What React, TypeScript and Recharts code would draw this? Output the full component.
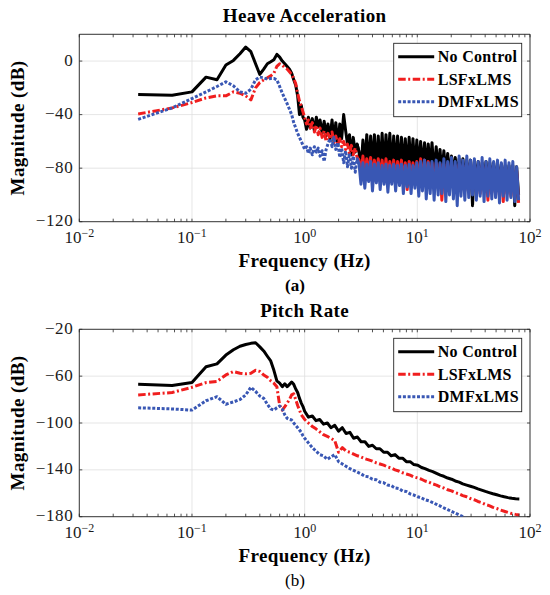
import React from 'react'
import {
  LineChart,
  Line,
  XAxis,
  YAxis,
  CartesianGrid,
  ReferenceLine,
  ReferenceArea,
} from 'recharts'

const FONT = '"Liberation Serif", "Times New Roman", serif'

// frequency bins below 1 Hz (shared by both panels)
const lowFreq = [
  0.0333, 0.0667, 0.1, 0.1333, 0.1667, 0.2, 0.2333, 0.2667, 0.3, 0.3333,
  0.3667, 0.4, 0.4333, 0.4667, 0.5, 0.5333, 0.5667, 0.6, 0.6333, 0.6667,
  0.7, 0.7333, 0.7667, 0.8, 0.8333, 0.8667, 0.9, 0.9333, 0.9667,
]

// heave: 1 - 80 Hz
const heaveHighFreq = [
  1.0, 1.04, 1.08, 1.12, 1.17, 1.22, 1.27, 1.32, 1.37, 1.43,
  1.49, 1.55, 1.61, 1.68, 1.75, 1.82, 1.89, 1.97, 2.05, 2.13,
  2.22, 2.31, 2.4, 2.5, 2.6, 2.7, 2.81, 2.92, 3.04, 3.16,
  3.29, 3.42, 3.56, 3.7, 3.85, 4.0, 4.16, 4.33, 4.5, 4.68,
  4.87, 5.07, 5.27, 5.48, 5.7, 5.93, 6.17, 6.42, 6.68, 6.95,
  7.23, 7.52, 7.82, 8.13, 8.46, 8.8, 9.15, 9.52, 9.9, 10.3,
  10.7, 11.1, 11.6, 12.0, 12.5, 13.0, 13.5, 14.1, 14.7, 15.3,
  15.9, 16.5, 17.2, 17.9, 18.6, 19.3, 20.1, 20.9, 21.7, 22.6,
  23.5, 24.4, 25.4, 26.4, 27.5, 28.6, 29.7, 30.9, 32.1, 33.4,
  34.7, 36.1, 37.6, 39.1, 40.7, 42.3, 44.0, 45.8, 47.6, 49.5,
  51.5, 53.6, 55.7, 57.9, 60.2, 62.6, 65.1, 67.7, 70.4, 73.2,
  76.1, 79.2,
]

// pitch: 1 - 80 Hz
const pitchHighFreq = [
  1.0, 1.08, 1.17, 1.26, 1.36, 1.47, 1.59, 1.71, 1.85, 2.0,
  2.16, 2.33, 2.52, 2.72, 2.94, 3.17, 3.43, 3.7, 4.0, 4.32,
  4.66, 5.03, 5.44, 5.87, 6.34, 6.85, 7.4, 7.99, 8.63, 9.32,
  10.1, 10.9, 11.7, 12.7, 13.7, 14.8, 16.0, 17.2, 18.6, 20.1,
  21.7, 23.5, 25.3, 27.4, 29.6, 31.9, 34.5, 37.2, 40.2, 43.4,
  46.9, 50.7, 54.7, 59.1, 63.8, 68.9, 74.4, 80.4,
]

const heaveNoControl = [
  -25, -25.5, -23, -12, -14, -3, 0.5, 5.5, 10.5, 7,
  -2, -10, -6, -2, -0.5, 1, 5, 3, 0, -2,
  -4, -6, -9, -14, -18, -26, -40, -33, -42,
  -44, -51, -42, -50, -43, -52, -42, -49, -44, -54,
  -45, -56, -47, -58, -44, -60, -46, -63, -47, -58,
  -40, -52, -62, -55, -70, -57, -68, -62, -68, -80,
  -59, -78, -55, -80, -56, -79, -55, -82, -56, -80,
  -54, -81, -55, -79, -54, -82, -56, -80, -56, -81,
  -57, -80, -58, -82, -57, -80, -58, -81, -59, -82,
  -60, -80, -61, -83, -62, -81, -61, -84, -64, -82,
  -66, -85, -67, -84, -69, -86, -71, -85, -72, -87,
  -73, -86, -73, -88, -74, -90, -74, -108, -75, -90,
  -75, -92, -76, -90, -75, -92, -76, -90, -76, -93,
  -77, -92, -77, -94, -78, -93, -78, -96, -78, -108,
  -79, -100,
]

const heaveLsf = [
  -39.5, -35, -31, -27.5, -26, -26, -23, -24, -26, -29,
  -20, -16, -14, -12.5, -11, -9, -4, -2, -3, -5,
  -6, -8, -10, -13, -17, -24, -30, -34, -38,
  -42, -47, -44, -50, -46, -53, -48, -55, -50, -57,
  -52, -60, -54, -58, -53, -61, -56, -62, -58, -64,
  -60, -66, -62, -69, -63, -70, -65, -72, -74, -84,
  -71, -86, -73, -85, -72, -88, -74, -86, -73, -87,
  -74, -89, -73, -87, -75, -88, -74, -90, -75, -88,
  -74, -91, -76, -96, -75, -89, -76, -90, -75, -92,
  -73, -90, -74, -93, -75, -91, -76, -94, -76, -92,
  -77, -104, -77, -93, -76, -95, -77, -93, -78, -96,
  -77, -94, -78, -97, -77, -95, -78, -98, -78, -96,
  -79, -99, -78, -97, -79, -104, -79, -98, -80, -100,
  -79, -98, -80, -105, -80, -99, -81, -101, -81, -100,
  -82, -106,
]

const heaveDmf = [
  -43.5, -35, -28, -23, -19, -15.5, -18.5, -23, -24, -21,
  -14, -12, -12.5, -13.5, -13, -13, -14, -19, -24, -28,
  -32, -36, -40, -46, -50, -54, -57, -60, -63,
  -66, -64, -69, -65, -70, -64, -68, -65, -71, -67,
  -75, -66, -62, -58, -64, -57, -66, -61, -72, -65,
  -76, -67, -79, -69, -80, -71, -83, -73, -77, -92,
  -76, -95, -77, -90, -75, -97, -77, -91, -76, -96,
  -78, -92, -77, -98, -78, -92, -77, -97, -78, -93,
  -77, -99, -78, -94, -77, -99, -78, -95, -76, -101,
  -75, -97, -74, -103, -76, -99, -75, -104, -74, -100,
  -76, -99, -73, -105, -75, -100, -72, -103, -75, -108,
  -71, -101, -74, -104, -71, -102, -74, -100, -73, -104,
  -75, -101, -72, -105, -75, -101, -73, -103, -75, -102,
  -74, -106, -76, -101, -74, -104, -76, -102, -75, -105,
  -79, -104,
]

const pitchNoControl = [
  -67, -68, -65.5, -52, -49.5, -42, -37.5, -34.5, -33, -32,
  -31.5, -35, -38.5, -43, -47, -55, -64, -66, -69, -66.5,
  -69, -67, -65, -67, -71, -74, -79, -83, -86,
  -90, -95, -94, -98, -97, -101, -100, -104, -102, -107,
  -104, -109, -108, -113, -112, -116, -116, -120, -119, -122,
  -122, -125, -125, -128, -127, -130, -130, -133, -133, -135.5,
  -136, -138, -139, -140.5, -141.5, -143, -144.5, -145.5, -147, -148,
  -149.5, -150.5, -152, -153, -154, -155, -156.3, -157.3, -158.4, -159.4,
  -160.4, -161.3, -162.2, -163, -163.7, -164.3, -164.7, -164.8,
]

const pitchLsf = [
  -76, -74, -69.5, -65.5, -64.5, -59, -56, -57.5, -58, -57.5,
  -55, -56, -59, -61, -64, -66, -69, -85, -89, -86,
  -83, -80, -76, -75, -80, -85, -89, -93, -95,
  -97, -100, -103, -105, -107.5, -110, -111.5, -113, -115, -125,
  -121, -124, -125, -126.5, -128, -129, -130.5, -131.5, -132.5, -134,
  -135, -136, -137.5, -138.5, -140, -141, -142.5, -143.5, -144.5, -146,
  -147, -148, -149.5, -150.5, -152, -153, -154.5, -155.5, -157, -158,
  -159.5, -160.5, -162, -163, -164.5, -165.5, -167, -168, -169.5, -170.5,
  -172, -173, -174.3, -175.3, -176.3, -177.3, -178, -178.5,
]

const pitchDmf = [
  -87, -88, -89, -81, -77.5, -84, -82, -80, -76, -69.5,
  -73, -77, -79, -84, -88, -89, -87, -85.5, -88, -93,
  -96, -97, -97.5, -100, -102, -104, -106, -108, -111,
  -113, -117, -121, -124, -127, -128, -131, -129, -127, -133,
  -135, -137, -139, -140.5, -142, -143.5, -145.5, -146, -148, -148.5,
  -150.5, -151, -153, -153.5, -155.5, -156, -158, -158.5, -160.5, -161.5,
  -163, -164, -165.5, -166.5, -168, -169.5, -171, -172.5, -174, -175.5,
  -177, -178.5, -180, -182, null, null, null, null, null, null,
  null, null, null, null, null, null, null, null,
]

const majorTicks = [0.01, 0.1, 1, 10, 100]
const minorSteps = [2, 3, 4, 5, 6, 7, 8, 9]
const minorTicks = majorTicks.slice(0, 4).flatMap((d) => minorSteps.map((k) => k * d))

const heaveTicks = [-120, -80, -40, 0]
const pitchTicks = [-180, -140, -100, -60, -20]

const SERIES = [
  { key: 'noControl', name: 'No Control', color: '#000000', dash: undefined as string | undefined },
  { key: 'lsf', name: 'LSFxLMS', color: '#f01e1e', dash: '7.5 2.5 2 2.5' },
  { key: 'dmf', name: 'DMFxLMS', color: '#3957b4', dash: '3 1.7' },
]

const PLOT_LEFT = 79.3
const PLOT_RIGHT = 530
const PLOT_TOP = 34.3
const PLOT_H = 187.4
const AXIS_COLOR = '#262626'

// the dense noise above a few Hz reads as a solid band, so that part is drawn
// as its own solid trace (key + 'Hi'); the two parts share one segment
function buildRows(
  freq: number[],
  nc: (number | null)[],
  ls: (number | null)[],
  dm: (number | null)[],
  bandFrom?: [number, number],
) {
  return freq.map((f, i) => {
    const row: any = { f }
    const vals: Record<string, number | null> = { noControl: nc[i], lsf: ls[i], dmf: dm[i] }
    for (const k of Object.keys(vals)) {
      if (!bandFrom) {
        row[k] = vals[k]
      } else {
        row[k] = f <= bandFrom[1] ? vals[k] : null
        row[k + 'Hi'] = f >= bandFrom[0] ? vals[k] : null
      }
    }
    return row
  })
}

const heaveRows = buildRows([...lowFreq, ...heaveHighFreq], heaveNoControl, heaveLsf, heaveDmf, [2.92, 3.04])
const pitchRows = buildRows([...lowFreq, ...pitchHighFreq], pitchNoControl, pitchLsf, pitchDmf)

const fmtNum = (v: number) => (v < 0 ? '\u2212' + Math.abs(v) : String(v))

function XTick(props: any) {
  const { x, y, payload } = props
  const exp = Math.round(Math.log10(payload.value))
  return (
    <text x={x} y={y + 21.5} textAnchor="middle" fontFamily={FONT} fontSize={17} fill="#1a1a1a">
      10
      <tspan dy={-6.5} fontSize={12}>
        {fmtNum(exp)}
      </tspan>
    </text>
  )
}

function YTick(props: any) {
  const { x, y, payload } = props
  return (
    <text x={x - 6} y={y + 4.5} textAnchor="end" fontFamily={FONT} fontSize={17} letterSpacing={0.6} fill="#1a1a1a">
      {fmtNum(payload.value)}
    </text>
  )
}

function LegendBox() {
  return (
    <g transform="translate(393.7, 43.3)">
      <rect x={0} y={0} width={128} height={73.4} fill="#ffffff" stroke={AXIS_COLOR} strokeWidth={0.9} />
      {SERIES.map((s, i) => {
        const cy = 13.4 + i * 22.5
        return (
          <g key={s.key}>
            <line x1={4.5} x2={40.5} y1={cy} y2={cy} stroke={s.color} strokeWidth={3} strokeDasharray={s.dash} />
            <text x={44} y={cy + 5.5} fontFamily={FONT} fontSize={16} fontWeight="bold" letterSpacing={0.3} fill="#000">
              {s.name}
            </text>
          </g>
        )
      })}
    </g>
  )
}

interface PanelProps {
  top: number
  height: number
  title: string
  caption: string
  captionBold?: boolean
  rows: any[]
  yDomain: [number, number]
  yTicks: number[]
  band?: boolean
}

function Panel({ top, height, title, caption, captionBold, rows, yDomain, yTicks, band }: PanelProps) {
  const xAxisH = height - PLOT_TOP - PLOT_H
  const tickDy = (yDomain[1] - yDomain[0]) * 0.016
  const tickFx = 1.063
  const midX = (PLOT_LEFT + PLOT_RIGHT) / 2
  const midY = PLOT_TOP + PLOT_H / 2

  return (
    <div style={{ position: 'absolute', left: 0, top, width: 550, height }}>
      <LineChart
        width={550}
        height={height}
        data={rows}
        margin={{ top: PLOT_TOP, right: 550 - PLOT_RIGHT, bottom: 0, left: 0 }}
      >
        <CartesianGrid stroke="#dedede" strokeWidth={0.8} />
        <CartesianGrid
          horizontal={false}
          stroke="#c4c4c4"
          strokeWidth={0.8}
          strokeDasharray="1 2"
          verticalCoordinatesGenerator={({ xAxis }: any) =>
            xAxis && typeof xAxis.scale === 'function' ? minorTicks.map((m) => xAxis.scale(m)) : []
          }
        />
        <XAxis
          dataKey="f"
          type="number"
          scale="log"
          domain={[0.01, 100]}
          ticks={majorTicks}
          allowDataOverflow
          axisLine={false}
          tickLine={false}
          tickSize={0}
          tickMargin={0}
          interval={0}
          height={xAxisH}
          tick={XTick}
        />
        <YAxis
          type="number"
          domain={yDomain}
          ticks={yTicks}
          allowDataOverflow
          axisLine={false}
          tickLine={false}
          tickSize={0}
          tickMargin={0}
          interval={0}
          width={PLOT_LEFT}
          tick={YTick}
        />
        {SERIES.flatMap((s) => {
          const lines = [
            <Line
              key={s.key}
              dataKey={s.key}
              type="linear"
              stroke={s.color}
              strokeWidth={3}
              strokeDasharray={s.dash}
              strokeLinejoin="round"
              dot={false}
              activeDot={false}
              isAnimationActive={false}
            />,
          ]
          if (band) {
            lines.push(
              <Line
                key={s.key + 'Hi'}
                dataKey={s.key + 'Hi'}
                type="linear"
                stroke={s.color}
                strokeWidth={3}
                strokeLinejoin="round"
                dot={false}
                activeDot={false}
                isAnimationActive={false}
              />,
            )
          }
          return lines
        })}
        <ReferenceArea
          x1={0.01}
          x2={100}
          y1={yDomain[0]}
          y2={yDomain[1]}
          fill="none"
          fillOpacity={0}
          stroke={AXIS_COLOR}
          strokeWidth={0.9}
          ifOverflow="visible"
        />
        {[...majorTicks, ...minorTicks].map((v) => (
          <ReferenceLine
            key={'b' + v}
            segment={[{ x: v, y: yDomain[0] }, { x: v, y: yDomain[0] + tickDy }]}
            stroke={AXIS_COLOR}
            strokeWidth={0.8}
            ifOverflow="visible"
          />
        ))}
        {[...majorTicks, ...minorTicks].map((v) => (
          <ReferenceLine
            key={'t' + v}
            segment={[{ x: v, y: yDomain[1] }, { x: v, y: yDomain[1] - tickDy }]}
            stroke={AXIS_COLOR}
            strokeWidth={0.8}
            ifOverflow="visible"
          />
        ))}
        {yTicks.map((t) => (
          <ReferenceLine
            key={'l' + t}
            segment={[{ x: 0.01, y: t }, { x: 0.01 * tickFx, y: t }]}
            stroke={AXIS_COLOR}
            strokeWidth={0.8}
            ifOverflow="visible"
          />
        ))}
        {yTicks.map((t) => (
          <ReferenceLine
            key={'r' + t}
            segment={[{ x: 100 / tickFx, y: t }, { x: 100, y: t }]}
            stroke={AXIS_COLOR}
            strokeWidth={0.8}
            ifOverflow="visible"
          />
        ))}
      </LineChart>

      <svg
        width={550}
        height={height}
        style={{ position: 'absolute', left: 0, top: 0, pointerEvents: 'none' }}
      >
        <LegendBox />
        <text x={midX} y={22} textAnchor="middle" fontFamily={FONT} fontSize={19} fontWeight="bold" letterSpacing={0.4} fill="#000">
          {title}
        </text>
        <text x={midX} y={266.7} textAnchor="middle" fontFamily={FONT} fontSize={19} fontWeight="bold" letterSpacing={0.4} fill="#000">
          Frequency (Hz)
        </text>
        <text
          x={24}
          y={midY}
          transform={`rotate(-90 24 ${midY})`}
          textAnchor="middle"
          fontFamily={FONT}
          fontSize={19}
          fontWeight="bold"
          letterSpacing={0.4}
          fill="#000"
        >
          Magnitude (dB)
        </text>
        <text x={295} y={290.5} textAnchor="middle" fontFamily={FONT} fontSize={17} fontWeight={captionBold ? 'bold' : 'normal'} fill="#000">
          {caption}
        </text>
      </svg>
    </div>
  )
}

export default function App() {
  return (
    <div style={{ position: 'absolute', left: 0, top: 0, width: 550, height: 595, background: '#fff' }}>
      <Panel
        top={0}
        height={295}
        title="Heave Acceleration"
        caption="(a)"
        captionBold
        rows={heaveRows}
        yDomain={[-120, 20]}
        yTicks={heaveTicks}
        band
      />
      <Panel
        top={295}
        height={300}
        title="Pitch Rate"
        caption="(b)"
        rows={pitchRows}
        yDomain={[-180, -20]}
        yTicks={pitchTicks}
      />
    </div>
  )
}
